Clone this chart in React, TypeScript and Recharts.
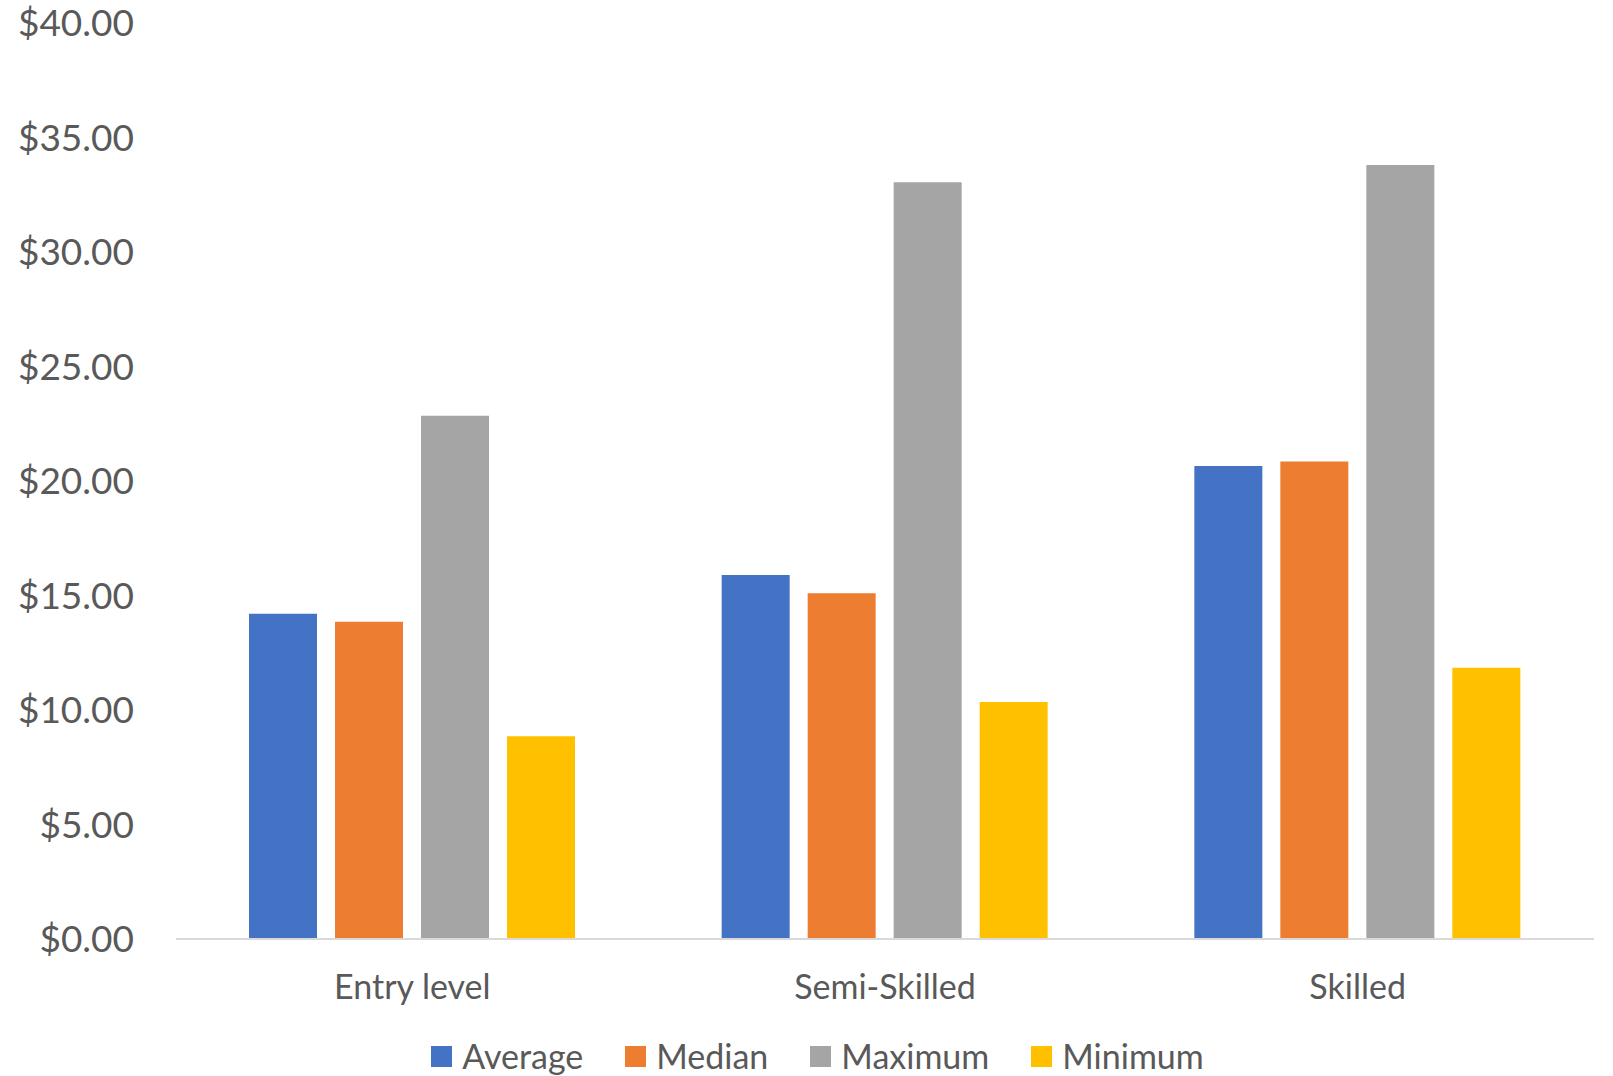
import { Bar, BarChart, XAxis, YAxis } from "recharts";

const categories = ["Entry level", "Semi-Skilled", "Skilled"];
const average = [14.2, 15.9, 20.65];
const median = [13.85, 15.1, 20.85];
const maximum = [22.85, 33.05, 33.8];
const minimum = [8.85, 10.35, 11.85];
const yTicks = [0, 5, 10, 15, 20, 25, 30, 35, 40];

const series = [
  { key: "average", name: "Average", color: "#4472C4", values: average },
  { key: "median", name: "Median", color: "#ED7D31", values: median },
  { key: "maximum", name: "Maximum", color: "#A5A5A5", values: maximum },
  { key: "minimum", name: "Minimum", color: "#FFC000", values: minimum },
];

const data = categories.map((c, i) => {
  const row: Record<string, string | number> = { category: c };
  series.forEach((s) => (row[s.key] = s.values[i]));
  return row;
});

const FONT = "Lato, 'Open Sans', sans-serif";
const TEXT = "#595959";

// legend sits outside the chart so it doesn't eat into the plot height
function LegendRow() {
  return (
    <div
      style={{
        position: "absolute",
        left: 0,
        top: 1036,
        width: 1613,
        height: 40,
        lineHeight: "40px",
        display: "flex",
        justifyContent: "center",
        gap: 42,
        paddingLeft: 22,
        boxSizing: "border-box",
        fontFamily: FONT,
        fontSize: 34,
        color: TEXT,
      }}
    >
      {series.map((s) => (
        <div key={s.key} style={{ display: "flex", alignItems: "center", gap: 10 }}>
          <span style={{ width: 21, height: 21, background: s.color, display: "inline-block" }} />
          <span>{s.name}</span>
        </div>
      ))}
    </div>
  );
}

export default function App() {
  return (
    <div style={{ position: "absolute", left: 0, top: 0, width: 1613, height: 1076, background: "#fff" }}>
      <BarChart
        width={1613}
        height={1076}
        data={data}
        margin={{ top: 23, right: 19, left: 0, bottom: 107 }}
        barSize={68}
        barGap={18}
        barCategoryGap={73}
      >
        <XAxis
          dataKey="category"
          height={30}
          stroke="#D9D9D9"
          strokeWidth={2}
          tickLine={false}
          tickSize={0}
          tickMargin={36}
          tick={{ fill: TEXT, fontSize: 34, fontFamily: FONT }}
        />
        <YAxis
          width={176}
          domain={[0, 40]}
          ticks={yTicks}
          axisLine={false}
          tickLine={false}
          tickSize={0}
          tickMargin={42}
          tickFormatter={(v: number) => `$${v.toFixed(2)}`}
          tick={{ fill: TEXT, fontSize: 37, fontFamily: FONT }}
        />
        {series.map((s) => (
          <Bar key={s.key} dataKey={s.key} name={s.name} fill={s.color} isAnimationActive={false} />
        ))}
      </BarChart>
      <LegendRow />
    </div>
  );
}
